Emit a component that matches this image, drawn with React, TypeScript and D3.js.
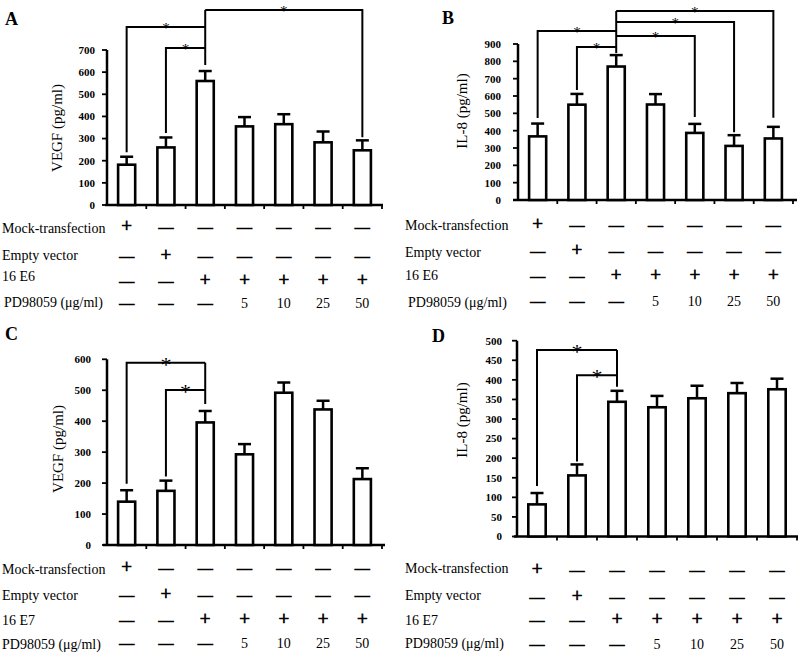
import React from "react";
import * as d3 from "d3";

// ---------- data ----------
const categories = ["mock", "vector", "onco", "pd5", "pd10", "pd25", "pd50"];
const mockSigns = ["+", "—", "—", "—", "—", "—", "—"];
const vectorSigns = ["—", "+", "—", "—", "—", "—", "—"];
const oncoSigns = ["—", "—", "+", "+", "+", "+", "+"];
const pdDoses = ["—", "—", "—", "5", "10", "25", "50"];

const rowLabelsE6 = ["Mock-transfection", "Empty vector", "16 E6", "PD98059 (μg/ml)"];
const rowLabelsE7 = ["Mock-transfection", "Empty vector", "16 E7", "PD98059 (μg/ml)"];

const vegfE6 = [182, 260, 560, 355, 365, 283, 247];
const vegfE6Err = [36, 45, 45, 42, 45, 49, 45];
const il8E6 = [367, 550, 770, 551, 387, 312, 355];
const il8E6Err = [74, 62, 66, 60, 52, 62, 67];
const vegfE7 = [140, 175, 396, 293, 492, 438, 213];
const vegfE7Err = [37, 33, 37, 33, 33, 28, 35];
const il8E7 = [82, 156, 344, 330, 353, 366, 376];
const il8E7Err = [29, 28, 28, 29, 32, 26, 27];

const ticksVegfE6 = [0, 100, 200, 300, 400, 500, 600, 700];
const ticksIl8E6 = [0, 100, 200, 300, 400, 500, 600, 700, 800, 900];
const ticksVegfE7 = [0, 100, 200, 300, 400, 500, 600];
const ticksIl8E7 = [0, 50, 100, 150, 200, 250, 300, 350, 400, 450, 500];

// significance pairs: [compared bar, reference bar]
const sigA = [[0, 2], [1, 2], [6, 2]];
const sigB = [[0, 2], [1, 2], [4, 2], [5, 2], [6, 2]];
const sigC = [[0, 2], [1, 2]];
const sigD = [[0, 2], [1, 2]];

// ---------- layout ----------
const FONT = "'Liberation Serif', 'Times New Roman', serif";

const layoutA = {
  x0: 107, x1: 382, yTop: 50, yBottom: 205, axisStart: 105, axisEnd: 383,
  tickGap: 12, letterX: 5, letterY: 25, yLabelX: 57, yLabelY: 128,
  rowX: [2, 2, 2, 4], rowY: [233, 260, 281, 307], signY: [232, 261, 286, 308],
  starSize: 15, levels: [804, 709, 881], gaps: [4.5, 4.5, 3], refGap: 6,
};
const layoutB = {
  x0: 518, x1: 793, yTop: 44, yBottom: 200, axisStart: 513, axisEnd: 797,
  tickGap: 17, letterX: 442, letterY: 24, yLabelX: 462, yLabelY: 111,
  rowX: [405, 405, 405, 408], rowY: [230, 257, 280, 307], signY: [230, 256, 281, 306],
  starSize: 15, levels: [975, 883, 946, 1027, 1090], gaps: [5.5, 4, 7, 3, 9], refGap: 2,
};
const layoutC = {
  x0: 107, x1: 382, yTop: 359.3, yBottom: 545, axisStart: 103, axisEnd: 385,
  tickGap: 16, letterX: 5, letterY: 340, yLabelX: 58, yLabelY: 449,
  rowX: [2, 2, 2, 2], rowY: [574, 600, 625, 649], signY: [573, 600, 625, 648],
  starSize: 22, levels: [589, 501], gaps: [6.5, 4], refGap: 7,
};
const layoutD = {
  x0: 517, x1: 797, yTop: 340.7, yBottom: 536.5, axisStart: 514, axisEnd: 798,
  tickGap: 15, letterX: 432, letterY: 342, yLabelX: 462, yLabelY: 420,
  rowX: [405, 405, 405, 405], rowY: [573, 600, 625, 648], signY: [575, 602, 625, 649],
  starSize: 22, levels: [476, 412], gaps: [7, 3], refGap: 4,
};

type Layout = typeof layoutA;

function Panel(props: {
  letter: string;
  values: number[];
  errors: number[];
  ticks: number[];
  yLabel: string;
  rowLabels: string[];
  sig: number[][];
  L: Layout;
}) {
  const { letter, values, errors, ticks, yLabel, rowLabels, sig, L } = props;
  const pad = 0.565;
  const x = d3
    .scaleBand<string>()
    .domain(categories)
    .range([L.x0, L.x1])
    .paddingInner(pad)
    .paddingOuter(pad / 2);
  const y = d3
    .scaleLinear()
    .domain([0, ticks[ticks.length - 1]])
    .range([L.yBottom, L.yTop]);
  const bw = x.bandwidth();
  const step = x.step();
  const cx = (i: number) => (x(categories[i]) as number) + bw / 2;
  const capHalf = 6.5;

  const refIdx = sig.length ? sig[0][1] : 2;
  const topLevel = d3.max(L.levels) as number;

  const signRows = [mockSigns, vectorSigns, oncoSigns, pdDoses];

  return (
    <g fontFamily={FONT}>
      {/* panel letter */}
      <text x={L.letterX} y={L.letterY} fontSize={18} fontWeight="bold">
        {letter}
      </text>

      {/* y axis */}
      <line x1={L.x0} x2={L.x0} y1={y(0)} y2={y(ticks[ticks.length - 1])} stroke="#000" strokeWidth={2.5} />
      {ticks.map((t) => (
        <g key={"t" + t}>
          <line x1={L.x0 - 5} x2={L.x0} y1={y(t)} y2={y(t)} stroke="#000" strokeWidth={1.8} />
          <text
            x={L.x0 - L.tickGap}
            y={y(t)}
            dy="0.35em"
            textAnchor="end"
            fontSize={11}
            fontWeight="bold"
          >
            {t}
          </text>
        </g>
      ))}
      <text
        transform={`translate(${L.yLabelX},${L.yLabelY}) rotate(-90)`}
        textAnchor="middle"
        dy="0.35em"
        fontSize={15}
      >
        {yLabel}
      </text>

      {/* x axis */}
      <line x1={L.axisStart} x2={L.axisEnd} y1={y(0)} y2={y(0)} stroke="#000" strokeWidth={2.5} />
      {categories.map((c, i) => (
        <line
          key={"xt" + c}
          x1={L.x0 + step * (i + 1)}
          x2={L.x0 + step * (i + 1)}
          y1={y(0)}
          y2={y(0) + 4}
          stroke="#000"
          strokeWidth={1.8}
        />
      ))}

      {/* bars */}
      {categories.map((c, i) => (
        <g key={"b" + c}>
          <line
            x1={cx(i)}
            x2={cx(i)}
            y1={y(values[i])}
            y2={y(values[i] + errors[i])}
            stroke="#000"
            strokeWidth={2.5}
          />
          <line
            x1={cx(i) - capHalf}
            x2={cx(i) + capHalf}
            y1={y(values[i] + errors[i])}
            y2={y(values[i] + errors[i])}
            stroke="#000"
            strokeWidth={2.5}
          />
          <rect
            x={x(c)}
            y={y(values[i])}
            width={bw}
            height={y(0) - y(values[i])}
            fill="#fff"
            stroke="#000"
            strokeWidth={2.6}
          />
        </g>
      ))}

      {/* significance brackets */}
      <line
        x1={cx(refIdx)}
        x2={cx(refIdx)}
        y1={y(topLevel)}
        y2={y(values[refIdx] + errors[refIdx]) - L.refGap}
        stroke="#000"
        strokeWidth={2}
      />
      {sig.map(([a, b], k) => {
        const ly = y(L.levels[k]);
        const dropEnd = y(values[a] + errors[a]) - L.gaps[k];
        const mid = (cx(a) + cx(b)) / 2;
        return (
          <g key={"s" + k}>
            <path
              d={`M${cx(a)},${dropEnd}V${ly}H${cx(b)}`}
              fill="none"
              stroke="#000"
              strokeWidth={2}
            />
            <text
              x={mid}
              y={ly + (L.starSize > 18 ? 9 : 6)}
              textAnchor="middle"
              fontSize={L.starSize}
              fill="#000"
            >
              *
            </text>
          </g>
        );
      })}

      {/* condition table */}
      {rowLabels.map((lab, r) => (
        <text key={"r" + r} x={L.rowX[r]} y={L.rowY[r]} fontSize={14}>
          {lab}
        </text>
      ))}
      {signRows.map((row, r) =>
        row.map((s, i) => {
          const isSign = s === "+" || s === "—";
          return (
            <text
              key={"g" + r + "-" + i}
              x={cx(i)}
              y={L.signY[r]}
              textAnchor="middle"
              fontSize={s === "+" ? 19 : s === "—" ? 15 : 14}
              stroke={isSign ? "#000" : "none"}
              strokeWidth={isSign ? 0.7 : 0}
            >
              {s}
            </text>
          );
        })
      )}
    </g>
  );
}

export default function App() {
  return (
    <svg
      width={800}
      height={655}
      style={{ position: "absolute", left: 0, top: 0, background: "#fff" }}
    >
      <rect width={800} height={655} fill="#fff" />
      <Panel letter="A" values={vegfE6} errors={vegfE6Err} ticks={ticksVegfE6} yLabel="VEGF (pg/ml)" rowLabels={rowLabelsE6} sig={sigA} L={layoutA} />
      <Panel letter="B" values={il8E6} errors={il8E6Err} ticks={ticksIl8E6} yLabel="IL-8 (pg/ml)" rowLabels={rowLabelsE6} sig={sigB} L={layoutB} />
      <Panel letter="C" values={vegfE7} errors={vegfE7Err} ticks={ticksVegfE7} yLabel="VEGF (pg/ml)" rowLabels={rowLabelsE7} sig={sigC} L={layoutC} />
      <Panel letter="D" values={il8E7} errors={il8E7Err} ticks={ticksIl8E7} yLabel="IL-8 (pg/ml)" rowLabels={rowLabelsE7} sig={sigD} L={layoutD} />
    </svg>
  );
}
